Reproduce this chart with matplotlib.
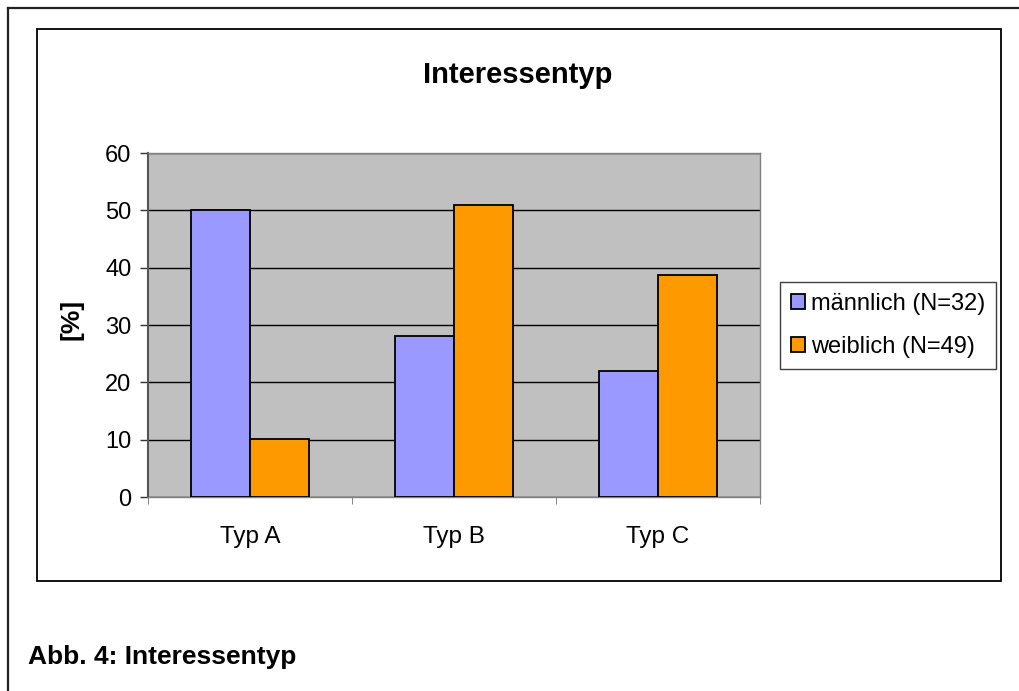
import numpy as np
import matplotlib
matplotlib.use("Agg")
import matplotlib.pyplot as plt
from matplotlib.lines import Line2D
from matplotlib.patches import Rectangle

plt.rcParams['font.family'] = ['Liberation Sans', 'DejaVu Sans']

kategorien = ['Typ A', 'Typ B', 'Typ C']
maennlich = [50.0, 28.0, 22.0]
weiblich = [10.2, 51.0, 38.7]
serien = ['männlich (N=32)', 'weiblich (N=49)']
farben = ['#9999FF', '#FF9900']

W, H = 1020, 691
fig = plt.figure(figsize=(W / 100, H / 100), dpi=100)

def fx(px):
    return px / W

def fy(py):
    return 1 - py / H

# outer frame (only top and left are visible)
fig.add_artist(Line2D([fx(8), fx(1020)], [fy(8), fy(8)], color='#222222', lw=1.6))
fig.add_artist(Line2D([fx(8), fx(8)], [fy(8), fy(691)], color='#222222', lw=1.6))
# inner chart box
fig.add_artist(Rectangle((fx(37), fy(581)), fx(1001) - fx(37), fy(29) - fy(581),
                         fill=False, edgecolor='black', lw=1.3))

ax = fig.add_axes([fx(148), fy(497), fx(760) - fx(148), fy(153) - fy(497)])
ax.set_facecolor('#C0C0C0')

x = np.arange(len(kategorien))
bw = 0.29
ax.bar(x - bw / 2, maennlich, bw, color=farben[0], edgecolor='black', lw=1.3,
       label=serien[0], zorder=3)
ax.bar(x + bw / 2, weiblich, bw, color=farben[1], edgecolor='black', lw=1.3,
       label=serien[1], zorder=3)

ax.set_xlim(-0.5, 2.5)
ax.set_ylim(0, 60)
ax.set_yticks(range(0, 61, 10))
ax.yaxis.grid(True, color='black', lw=1.0, zorder=1)
ax.set_axisbelow(True)

ax.set_xticks(x)
ax.set_xticklabels(kategorien, fontsize=17.5)
ax.set_xticks([-0.5, 0.5, 1.5, 2.5], minor=True)
ax.tick_params(axis='x', which='major', length=0, pad=21)
ax.tick_params(axis='x', which='minor', length=5, color='#707070')
ax.tick_params(axis='y', labelsize=17, length=6, width=1.0, pad=6, color='#333333')

for s in ['top', 'right']:
    ax.spines[s].set_color('#808080')
    ax.spines[s].set_linewidth(1.0)
ax.spines['left'].set_color('#555555')
ax.spines['left'].set_linewidth(1.5)
ax.spines['bottom'].set_color('#808080')
ax.spines['bottom'].set_linewidth(1.0)

ax.set_ylabel('[%]', fontsize=19, fontweight='bold')
ax.yaxis.set_label_coords(-0.106, 0.515)

fig.text(fx(518), fy(75), 'Interessentyp', fontsize=21, fontweight='bold',
         ha='center', va='center')
fig.text(fx(28), fy(657), 'Abb. 4: Interessentyp', fontsize=19, fontweight='bold',
         ha='left', va='center')

leg = fig.legend(loc='upper left', bbox_to_anchor=(fx(780), fy(282)), fontsize=17,
                 frameon=True, fancybox=False, edgecolor='#404040', framealpha=1,
                 handlelength=0.62, handleheight=0.62, handletextpad=0.25,
                 borderpad=0.45, labelspacing=0.9, borderaxespad=0)
leg.get_frame().set_linewidth(1.0)

fig.savefig('out.png', dpi=100)
